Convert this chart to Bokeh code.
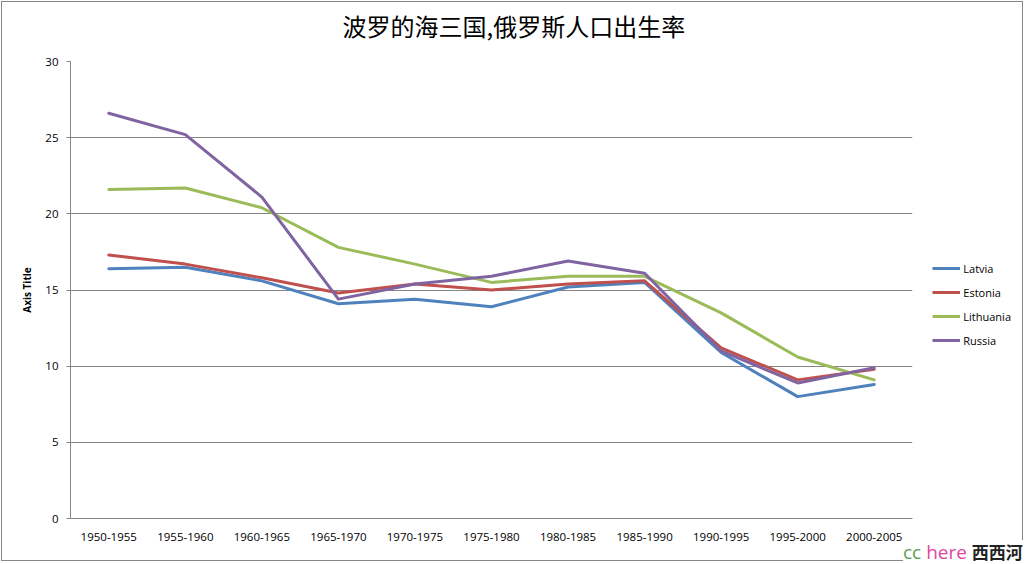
from bokeh.plotting import figure
from bokeh.models import (Range1d, FixedTicker, Legend, LegendItem, ColumnDataSource, Title, Div)
from bokeh.layouts import column
from bokeh.embed import file_html
from bokeh.resources import INLINE

periods = ["1950-1955", "1955-1960", "1960-1965", "1965-1970", "1970-1975", "1975-1980",
           "1980-1985", "1985-1990", "1990-1995", "1995-2000", "2000-2005"]
latvia = [16.4, 16.5, 15.6, 14.1, 14.4, 13.9, 15.2, 15.5, 10.9, 8.0, 8.8]
estonia = [17.3, 16.7, 15.8, 14.8, 15.4, 15.0, 15.4, 15.6, 11.2, 9.1, 9.8]
lithuania = [21.6, 21.7, 20.4, 17.8, 16.7, 15.5, 15.9, 15.9, 13.5, 10.6, 9.1]
russia = [26.6, 25.2, 21.1, 14.4, 15.4, 15.9, 16.9, 16.1, 11.0, 8.9, 9.9]
series_names = ["Latvia", "Estonia", "Lithuania", "Russia"]
series_values = [latvia, estonia, lithuania, russia]
colors = ["#4F81BD", "#C0504D", "#9BBB59", "#8064A2"]
y_ticks = [0, 5, 10, 15, 20, 25, 30]
title_text = "波罗的海三国,俄罗斯人口出生率"
watermark = [("cc", "#5a9e55"), ("here", "#e0479a"), ("西西河", "#222222")]

grid_col = "#868686"

p = figure(width=1022, height=560, x_range=periods, y_range=Range1d(0, 30),
           output_backend="svg", toolbar_location=None,
           min_border_left=68, min_border_right=112, min_border_top=59, min_border_bottom=44,
           styles={"border": "1px solid #868686", "margin": "1px 0 0 1px"})
p.outline_line_color = None
p.xgrid.grid_line_color = None
p.ygrid.grid_line_color = grid_col
p.ygrid.grid_line_width = 1
p.yaxis.ticker = FixedTicker(ticks=y_ticks)

# title: spacer (closest to frame) then the real title
p.title.visible = False
p.add_layout(Title(text=" ", text_font="Open Sans", text_font_size="8px", standoff=6,
                   text_color="#ffffff"), "above")
p.add_layout(Title(text=title_text, align="left", offset=272, text_font="Noto Sans CJK SC",
                   text_font_size="24px", text_font_style="normal", text_color="#000000",
                   standoff=0), "above")

for ax in (p.xaxis[0], p.yaxis[0]):
    ax.axis_line_color = grid_col
    ax.major_label_text_font = "Open Sans"
    ax.major_label_text_font_size = "11.5px"
    ax.major_label_text_color = "#000000"
    ax.minor_tick_line_color = None

p.xaxis.major_tick_line_color = None
p.xaxis.major_tick_out = 0
p.xaxis.major_label_standoff = 14
p.yaxis.major_tick_line_color = grid_col
p.yaxis.major_tick_out = 4
p.yaxis.major_tick_in = 0
p.yaxis.major_label_standoff = 8
p.yaxis.axis_label = "Axis Title"
p.yaxis.axis_label_text_font = "Open Sans"
p.yaxis.axis_label_text_font_size = "10px"
p.yaxis.axis_label_text_font_style = "bold"
p.yaxis.axis_label_text_color = "#000000"
p.yaxis.axis_label_standoff = 8

for name, vals, col in zip(series_names, series_values, colors):
    src = ColumnDataSource(dict(x=periods, y=vals))
    p.line("x", "y", source=src, line_color=col, line_width=3, line_join="round", line_cap="round")

# legend: a small transparent figure placed to the right of the plot area
lg = figure(width=95, height=100, x_range=Range1d(0, 1), y_range=Range1d(0, 1),
            output_backend="svg", toolbar_location=None, x_axis_type=None, y_axis_type=None,
            min_border=0, min_border_left=0, min_border_right=0, min_border_top=0, min_border_bottom=0,
            styles={"position": "absolute", "left": "929px", "top": "258px"})
lg.outline_line_color = None
lg.background_fill_alpha = 0
lg.border_fill_alpha = 0
lg.grid.visible = False
nan = float("nan")
items = []
for name, col in zip(series_names, colors):
    r = lg.line(x=[nan], y=[nan], line_color=col, line_width=3)
    items.append(LegendItem(label=name, renderers=[r]))
legend = Legend(items=items, location="top_left", orientation="vertical",
                label_text_font="Open Sans", label_text_font_size="11px", label_text_color="#000000",
                glyph_width=28, glyph_height=20, label_height=20, label_standoff=3,
                spacing=4, padding=0, margin=0,
                border_line_color=None, background_fill_alpha=0)
lg.add_layout(legend, "center")

wm_html = ('<span style="color:%s">%s</span> <span style="color:%s">%s</span> '
           '<span style="color:%s;font-family:\'Noto Sans CJK SC\';font-weight:bold;font-size:17px">%s</span>'
           % (watermark[0][1], watermark[0][0], watermark[1][1], watermark[1][0],
              watermark[2][1], watermark[2][0]))
wm = Div(text=wm_html, width=126, height=24,
         styles={"position": "absolute", "left": "898px", "top": "535px",
                 "background-color": "#ffffff", "font-family": "'Open Sans'",
                 "font-size": "19px", "line-height": "24px", "white-space": "nowrap"})

layout = column(p, lg, wm, spacing=0)
open("out.html", "w").write(file_html(layout, INLINE))
